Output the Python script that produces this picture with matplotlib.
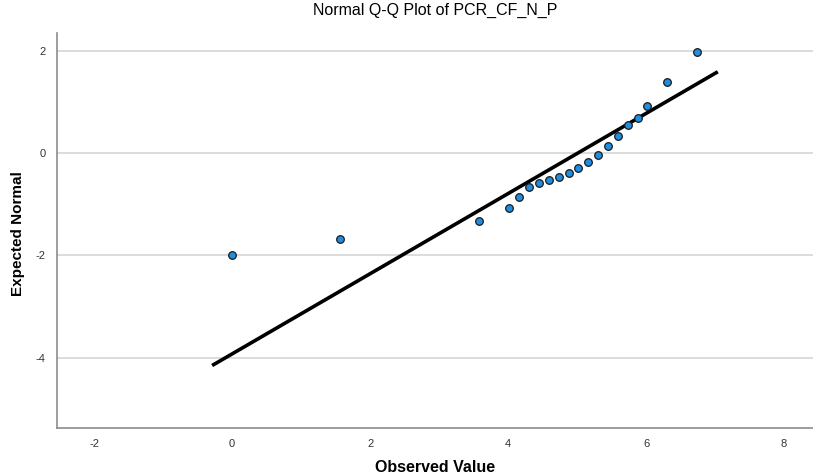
import numpy as np
import matplotlib
matplotlib.use("Agg")
import matplotlib.pyplot as plt

plt.rcParams['font.family'] = ['Liberation Sans', 'DejaVu Sans']
plt.rcParams['axes.unicode_minus'] = False

observed = [0.0, 1.57, 3.58, 4.02, 4.16, 4.30, 4.45, 4.59, 4.74, 4.88,
            5.02, 5.16, 5.31, 5.45, 5.59, 5.74, 5.88, 6.02, 6.30, 6.74]
expected = [-1.99, -1.68, -1.32, -1.08, -0.85, -0.66, -0.59, -0.52, -0.46, -0.39,
            -0.29, -0.18, -0.03, 0.14, 0.34, 0.54, 0.68, 0.93, 1.39, 1.98]

# reference line: y = (x - mean) / sd
line_x = [-0.29, 7.04]
mean = 5.01
sd = 1.277

xticks = [-2, 0, 2, 4, 6, 8]
yticks = [-4, -2, 0, 2]

fig = plt.figure(figsize=(8.13, 4.76), dpi=100)
ax = fig.add_axes([0.070, 0.101, 0.930, 0.830])

line_y = [(v - mean) / sd for v in line_x]
ax.plot(line_x, line_y, color='black', lw=2.6, zorder=2, solid_capstyle='butt')
ax.scatter(observed, expected, s=30, c='#1f8ee0', edgecolors='#1a1a1a',
           linewidths=0.9, zorder=3)

ax.set_xlim(-2.54, 8.42)
ax.set_ylim(-5.37, 2.35)
ax.set_xticks(xticks)
ax.set_yticks(yticks)
ax.tick_params(length=0, labelsize=8, labelcolor='#333333', pad=8)

ax.grid(axis='y', color='#d6d6d6', lw=1.2)
ax.set_axisbelow(True)
for s in ['top', 'right']:
    ax.spines[s].set_visible(False)
for s in ['left', 'bottom']:
    ax.spines[s].set_color('#8c8c8c')
    ax.spines[s].set_linewidth(1.2)

fig.text(0.535, 1 - 10 / 476, "Normal Q-Q Plot of PCR_CF_N_P", fontsize=11.5,
         ha='center', va='center')
fig.text(0.535, 1 - 467 / 476, "Observed Value", fontsize=11.5, fontweight='bold',
         ha='center', va='center')
fig.text(18 / 813, 1 - 234 / 476, "Expected Normal", fontsize=11, fontweight='bold',
         ha='center', va='center', rotation=90)

fig.savefig("out.png", dpi=100)
